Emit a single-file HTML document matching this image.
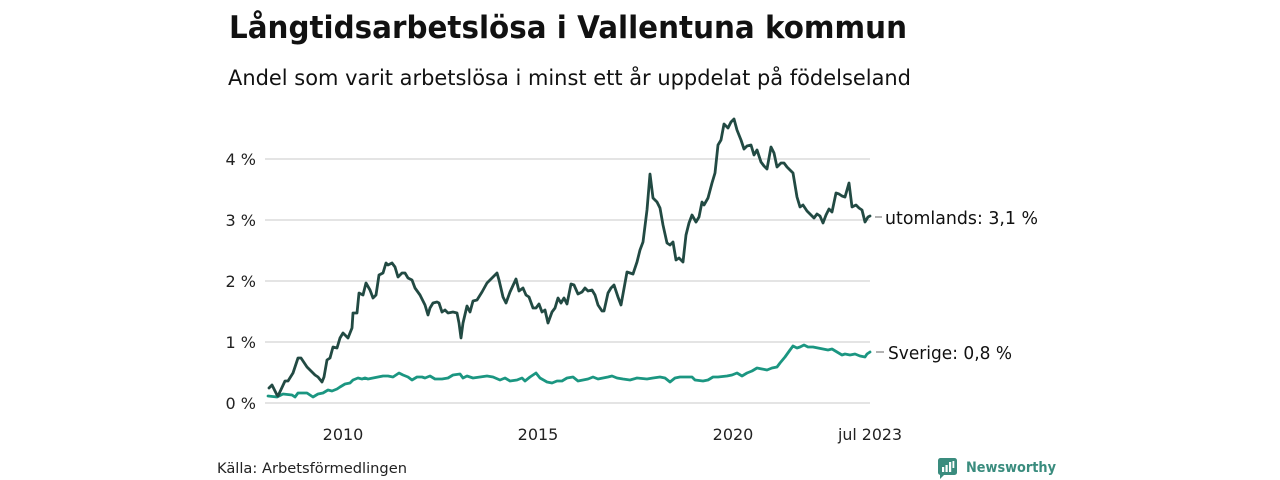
<!DOCTYPE html>
<html>
<head>
<meta charset="utf-8">
<style>
  html,body{margin:0;padding:0;background:#fff;}
  svg{display:block;}
  text{font-family:"DejaVu Sans", "Liberation Sans", sans-serif;}
</style>
</head>
<body>
<svg width="1280" height="480" viewBox="0 0 1280 480" xmlns="http://www.w3.org/2000/svg">
  <rect width="1280" height="480" fill="#ffffff"/>
  <!-- Title -->
  <text x="229" y="38" font-size="31" font-weight="bold" fill="#111" textLength="678" lengthAdjust="spacingAndGlyphs">Långtidsarbetslösa i Vallentuna kommun</text>
  <text x="228" y="85" font-size="21.5" fill="#111" textLength="683" lengthAdjust="spacingAndGlyphs">Andel som varit arbetslösa i minst ett år uppdelat på födelseland</text>

  <!-- Gridlines -->
  <g stroke="#dcdcdc" stroke-width="1.5">
    <line x1="265" y1="403" x2="870" y2="403"/>
    <line x1="265" y1="342" x2="870" y2="342"/>
    <line x1="265" y1="281" x2="870" y2="281"/>
    <line x1="265" y1="220" x2="870" y2="220"/>
    <line x1="265" y1="159" x2="870" y2="159"/>
  </g>

  <!-- Y labels -->
  <g font-size="16" fill="#222" text-anchor="end">
    <text x="256" y="409">0 %</text>
    <text x="256" y="348">1 %</text>
    <text x="256" y="287">2 %</text>
    <text x="256" y="226">3 %</text>
    <text x="256" y="165">4 %</text>
  </g>

  <!-- X labels -->
  <g font-size="16" fill="#222" text-anchor="middle">
    <text x="343" y="440">2010</text>
    <text x="538" y="440">2015</text>
    <text x="733" y="440">2020</text>
    <text x="870" y="440" textLength="64" lengthAdjust="spacingAndGlyphs">jul 2023</text>
  </g>

  <!-- Sverige series -->
  <polyline fill="none" stroke="#1b9681" stroke-width="2.8" stroke-linejoin="round" stroke-linecap="round"
    points="268,396 277,397 283,394 292,395 295,397 298,393 303,393 307,393 313,397 318,394 323,393 328,390 332,391 337,389 340,387 345,384 350,383 353,380 358,378 362,379 365,378 368,379 373,378 378,377 383,376 388,376 393,377 399,373 403,375 408,377 412,380 417,377 422,377 425,378 430,376 435,379 442,379 448,378 453,375 460,374 463,378 467,376 473,378 487,376 493,377 500,380 505,378 510,381 517,380 522,378 525,381 530,377 536,373 540,378 547,382 552,383 557,381 562,381 567,378 573,377 578,381 583,380 588,379 593,377 598,379 603,378 608,377 612,376 617,378 623,379 630,380 637,378 647,379 653,378 660,377 665,378 670,382 675,378 680,377 685,377 688,377 692,377 695,380 703,381 708,380 713,377 718,377 727,376 732,375 737,373 742,376 747,373 752,371 757,368 762,369 767,370 772,368 777,367 780,363 785,357 790,350 793,346 797,348 800,347 804,345 808,347 813,347 818,348 823,349 828,350 832,349 837,352 842,355 845,354 850,355 855,354 860,356 865,357 867,354 870,352"/>

  <!-- Utomlands series -->
  <polyline fill="none" stroke="#224a43" stroke-width="2.8" stroke-linejoin="round" stroke-linecap="round"
    points="269,388 272,385 277,395 278,396 285,381 288,381 293,373 298,358 301,358 307,367 315,375 318,377 322,382 324,377 327,360 330,358 333,347 337,348 340,338 343,333 348,338 352,328 353,313 357,313 359,293 363,295 366,283 370,290 373,298 376,295 379,275 383,273 386,263 388,265 392,263 395,267 398,277 402,273 405,273 408,278 412,280 415,288 420,295 425,305 428,315 430,308 433,303 437,302 439,303 442,312 445,310 448,313 453,312 457,313 459,323 461,338 463,323 467,306 470,312 473,301 477,300 482,292 487,283 492,278 497,273 499,280 503,297 506,303 510,292 516,279 519,291 523,288 526,295 529,297 533,308 536,308 539,304 542,312 545,310 548,323 552,312 555,308 558,298 561,303 564,298 567,304 571,284 574,285 578,294 582,292 585,288 588,291 592,290 595,295 598,305 602,311 604,311 608,293 611,288 614,285 618,297 621,305 627,272 630,273 633,274 637,262 640,250 643,242 647,210 650,174 653,198 657,202 660,208 663,225 667,243 670,245 673,242 676,260 679,258 683,262 686,235 689,223 692,215 696,222 699,217 702,202 704,205 708,198 712,183 715,173 718,145 721,140 724,124 728,128 731,122 734,119 737,130 741,140 744,149 747,146 751,145 754,155 757,150 761,162 764,166 767,169 771,147 774,153 777,167 781,163 784,163 787,167 791,171 793,173 797,197 800,207 803,205 807,211 811,215 814,218 817,214 820,216 823,223 826,215 829,209 832,212 836,193 839,194 842,196 845,197 849,183 852,207 856,205 859,208 862,210 865,222 868,217 870,216"/>

  <!-- Legend labels -->
  <g stroke="#888" stroke-width="1.3">
    <line x1="875" y1="217" x2="882" y2="217"/>
    <line x1="876" y1="352" x2="884" y2="352"/>
  </g>
  <text x="885" y="224" font-size="17.5" fill="#111" textLength="153" lengthAdjust="spacingAndGlyphs">utomlands: 3,1 %</text>
  <text x="888" y="359" font-size="17.5" fill="#111" textLength="124" lengthAdjust="spacingAndGlyphs">Sverige: 0,8 %</text>

  <!-- Footer -->
  <text x="217" y="473" font-size="14.5" fill="#222" textLength="190" lengthAdjust="spacingAndGlyphs">Källa: Arbetsförmedlingen</text>

  <!-- Logo -->
  <g>
    <rect x="938" y="458" width="19" height="17" rx="2.5" fill="#3a8c7e"/>
    <polygon points="940,474 945,474 940,479" fill="#3a8c7e"/>
    <rect x="942" y="467" width="2.2" height="5" fill="#fff"/>
    <rect x="945.5" y="465" width="2.2" height="7" fill="#fff"/>
    <rect x="949" y="462" width="2.2" height="10" fill="#fff"/>
    <rect x="952.5" y="461" width="1.8" height="7" fill="#fff"/>
  </g>
  <text x="966" y="472" font-size="14.5" font-weight="bold" fill="#3a8c7e" textLength="90" lengthAdjust="spacingAndGlyphs">Newsworthy</text>
</svg>
</body>
</html>
